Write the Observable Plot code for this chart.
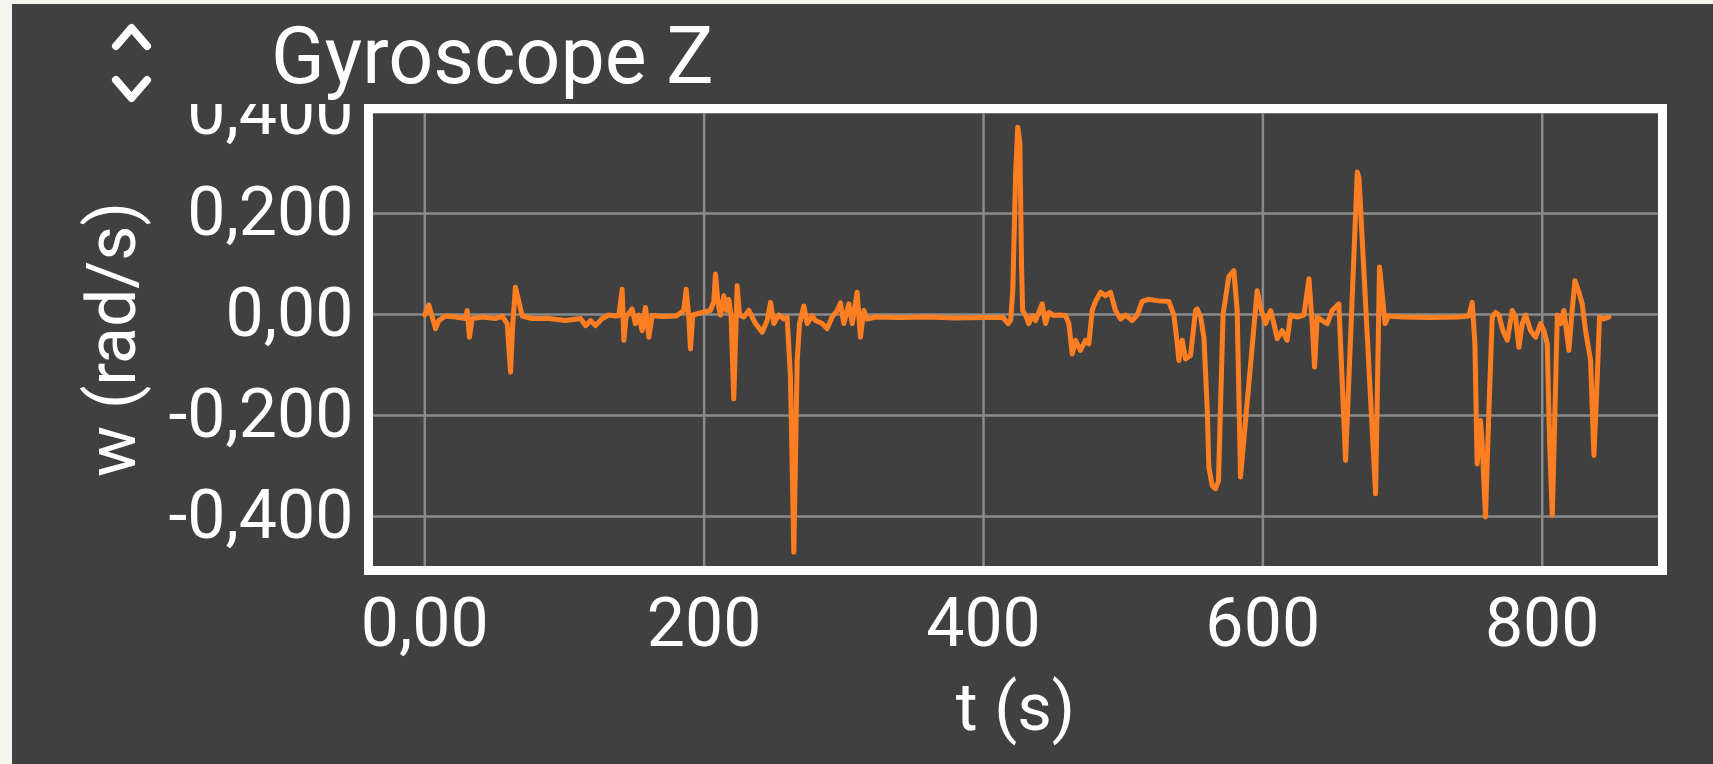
<!DOCTYPE html>
<html>
<head>
<meta charset="utf-8">
<script src="https://cdn.jsdelivr.net/npm/d3@7"></script>
<script src="https://cdn.jsdelivr.net/npm/@observablehq/plot@0.6"></script>
<style>
  html, body { margin: 0; padding: 0; }
  body { width: 1713px; height: 764px; background: #f4f4ee; position: relative; overflow: hidden; font-family: Roboto, sans-serif; }
  #panel { position: absolute; left: 12px; top: 4px; right: 0; bottom: 0; background: #404040; }
  #chart { position: absolute; left: 0; top: 0; }
  #deco { position: absolute; left: 0; top: 0; }
</style>
</head>
<body>
<div id="panel"></div>
<svg id="deco" width="1713" height="110">
  <polyline points="116,46 131.5,28 147,46" fill="none" stroke="#fff" stroke-width="8" stroke-linecap="round" stroke-linejoin="round"/>
  <polyline points="116,80 131.5,98 147,80" fill="none" stroke="#fff" stroke-width="8" stroke-linecap="round" stroke-linejoin="round"/>
  <text id="title" x="271" y="83" fill="#fff" font-family="Roboto" font-size="79">Gyroscope Z</text>
</svg>
<div id="chart"></div>
<script>
// ---- data ----
const title = "Gyroscope Z";
const xLabel = "t (s)";
const yLabel = "w (rad/s)";
const xTicks = [0, 200, 400, 600, 800];
const xTickLabels = ["0,00", "200", "400", "600", "800"];
const yTicks = [0.4, 0.2, 0, -0.2, -0.4];
const yTickLabels = ["0,400", "0,200", "0,00", "-0,200", "-0,400"];

const tValues = [
  0, 2.9, 5.3, 7.7, 10.0, 14.8, 22, 29.1, 30.3, 32.0, 33.9, 41.1, 50.6, 55.4, 59.0, 61.4, 63.0, 64.9, 67.3, 69.7,
  76.9, 88.8, 100.8, 111.5, 115.1, 118.7, 122.2, 127.0, 131.8, 136.6,
  138.9, 141.3, 142.5, 144.1, 148.4, 150.8, 153.2, 155.6, 158.0, 160.4, 162.8, 170, 180,
  185.4, 187.1, 189.0, 190.2, 191.9, 198.6, 204.5, 206.9, 208.1, 210.0, 211.7, 214.1, 216.0, 217.7, 219.3,
  221.2, 222.4, 223.6, 225.3, 228.4, 232.0, 236.8, 241.5, 245.1, 247.5, 249.9, 253.5, 257.1, 259.4,
  261.8, 264.2, 266.6, 268.3, 271.4, 273.8, 277.3,
  279.7, 284.5, 288.1, 291.6, 295.2, 297.6, 300.0, 303.6, 306.0, 309.5, 311.9, 314.3, 316.7, 322.7,
  340, 360, 380, 400, 414, 417.7,
  419.5, 421, 423, 424.5, 426, 427.2, 428,
  430.1, 432.4, 434.8, 437.2, 442.0, 444.4, 446.8, 450.4, 453.9, 458.7, 461.1, 463.5, 465.9, 469.4, 473.0, 475.4,
  477.8, 480.2, 483.8, 487.3, 490.9, 494.5, 498.1, 501.7, 506.4, 510.0, 513.6, 518.4, 525.5, 532.7, 536.3,
  538.7, 539.9, 542.3, 544.6, 548.2, 551.8, 553.0, 555.4, 557.8, 560.2, 561.3, 563.7, 566.0, 568.2,
  570.0, 571.5, 575.6, 579.2, 581.6, 584.0, 595.9, 598.3, 601.9, 605.5, 607.9, 610.3, 613.8, 617.4, 619.8,
  624.6, 629.4, 633.0, 635.3, 637.0, 638.9, 642.5, 646.1, 649.6, 654.4, 659.2, 667.6, 668.8, 680.7, 683.5,
  687.5, 690, 700, 720, 740, 747.5,
  749.9, 751.8, 753.4, 755.8, 757.0, 759.4, 761.8, 764.2, 766.6, 769.0, 771.8, 775.0, 778.5, 780.9, 783.3,
  785.7, 788.1, 791.7, 795.3, 798.8, 801.2, 803.6, 805.3, 807.2, 809.1, 810.8, 813.2, 815.5, 819.1, 821.0,
  823.4, 826.3, 828.6, 831.0, 834.6, 837.0, 839.4, 841.0, 844.1, 847.7
];
const wValues = [
  -0.001, 0.019, -0.005, -0.028, -0.012, -0.003, -0.005, -0.008, 0.008, -0.045, -0.008, -0.005, -0.008, -0.003, -0.018, -0.114, -0.018, 0.054, 0.026, -0.003,
  -0.008, -0.008, -0.012, -0.008, -0.022, -0.012, -0.022, -0.008, -0.001, -0.003,
  -0.002, 0.050, -0.051, -0.005, 0.011, -0.018, -0.001, -0.032, 0.014, -0.045, -0.002, -0.004, -0.003,
  0.008, 0.050, -0.005, -0.068, -0.001, 0.004, 0.008, 0.026, 0.080, 0.021, -0.001, 0.037, 0.008, 0.030, -0.005,
  -0.167, -0.058, 0.057, -0.001, -0.005, 0.008, -0.018, -0.035, -0.012, 0.024, -0.018, -0.001, -0.009, -0.005,
  -0.124, -0.471, -0.091, -0.018, 0.017, -0.018, -0.002,
  -0.012, -0.018, -0.028, -0.005, 0.008, 0.023, -0.018, 0.021, -0.018, 0.044, -0.045, 0.008, -0.009, -0.005,
  -0.006, -0.005, -0.007, -0.006, -0.006, -0.018,
  -0.010, 0.050, 0.280, 0.371, 0.340, 0.100, 0.008,
  -0.001, -0.018, -0.002, -0.012, 0.021, -0.018, 0.004, -0.002, -0.001, -0.002, -0.018, -0.078, -0.051, -0.071, -0.051, -0.058,
  0.008, 0.026, 0.044, 0.037, 0.044, 0.008, -0.009, -0.001, -0.012, -0.001, 0.026, 0.030, 0.027, 0.026, -0.001,
  -0.058, -0.091, -0.051, -0.088, -0.081, 0.008, 0.011, -0.005, -0.045, -0.190, -0.302, -0.339, -0.345, -0.330,
  -0.150, 0.000, 0.075, 0.087, 0.008, -0.322, 0.047, 0.014, -0.018, 0.008, -0.018, -0.048, -0.032, -0.051, -0.001,
  -0.005, -0.001, 0.071, -0.018, -0.104, -0.005, -0.012, -0.018, 0.008, 0.021, -0.289, 0.282, 0.270, -0.355, 0.094,
  -0.018, -0.003, -0.005, -0.006, -0.005, -0.003,
  0.024, -0.058, -0.296, -0.210, -0.256, -0.401, -0.190, -0.005, 0.004, -0.001, -0.032, -0.051, 0.008, -0.005, -0.065,
  -0.018, -0.001, -0.032, -0.045, -0.018, -0.032, -0.058, -0.256, -0.398, -0.190, -0.001, -0.018, 0.008, -0.071, -0.005,
  0.067, 0.044, 0.021, -0.032, -0.091, -0.279, -0.124, -0.005, -0.009, -0.005
];

const data = tValues.map((t, i) => ({t, w: wValues[i]}));
document.getElementById("title").textContent = title;

const gridColor = "#8a8a8a";
const chart = Plot.plot({
  width: 1713,
  height: 764,
  marginLeft: 368,
  marginRight: 51,
  marginTop: 108,
  marginBottom: 194,
  style: {background: "transparent", color: "#ffffff", fontFamily: "Roboto, sans-serif", overflow: "visible"},
  x: {domain: [-40.3, 886.1]},
  y: {domain: [-0.507, 0.408]},
  marks: [
    Plot.gridX(xTicks, {stroke: gridColor, strokeOpacity: 1, strokeWidth: 2.5}),
    Plot.gridY(yTicks, {stroke: gridColor, strokeOpacity: 1, strokeWidth: 2.5}),
    Plot.line(data, {x: "t", y: "w", stroke: "#ff7e22", strokeWidth: 5, strokeLinejoin: "round", clip: true}),
    Plot.frame({stroke: "#ffffff", strokeWidth: 9}),
    Plot.axisX(xTicks, {tickSize: 0, tickPadding: 27, fontSize: 68, label: null, fill: "#ffffff",
      tickFormat: d => xTickLabels[xTicks.indexOf(d)]}),
    Plot.axisY(yTicks, {tickSize: 0, tickPadding: 15, fontSize: 68, label: null, fill: "#ffffff",
      tickFormat: d => yTickLabels[yTicks.indexOf(d)]}),
    Plot.text([xLabel], {frameAnchor: "bottom", dy: 138, lineAnchor: "middle", textAnchor: "middle", fontSize: 67, fill: "#ffffff", text: d => d}),
    Plot.text([yLabel], {frameAnchor: "left", dx: -255, rotate: -90, lineAnchor: "middle", textAnchor: "middle", fontSize: 68, fill: "#ffffff", text: d => d})
  ]
});

// clip the y tick labels at the top of the frame, as in the app
const svgNS = "http://www.w3.org/2000/svg";
const defs = document.createElementNS(svgNS, "defs");
const cp = document.createElementNS(svgNS, "clipPath");
cp.setAttribute("id", "ylabclip");
const r = document.createElementNS(svgNS, "rect");
r.setAttribute("x", 0); r.setAttribute("y", 103.5); r.setAttribute("width", 1713); r.setAttribute("height", 700);
cp.appendChild(r); defs.appendChild(cp);
chart.insertBefore(defs, chart.firstChild);
const yl = chart.querySelector('g[aria-label="y-axis tick label"]');
if (yl) yl.setAttribute("clip-path", "url(#ylabclip)");

document.getElementById("chart").appendChild(chart);
</script>
</body>
</html>
